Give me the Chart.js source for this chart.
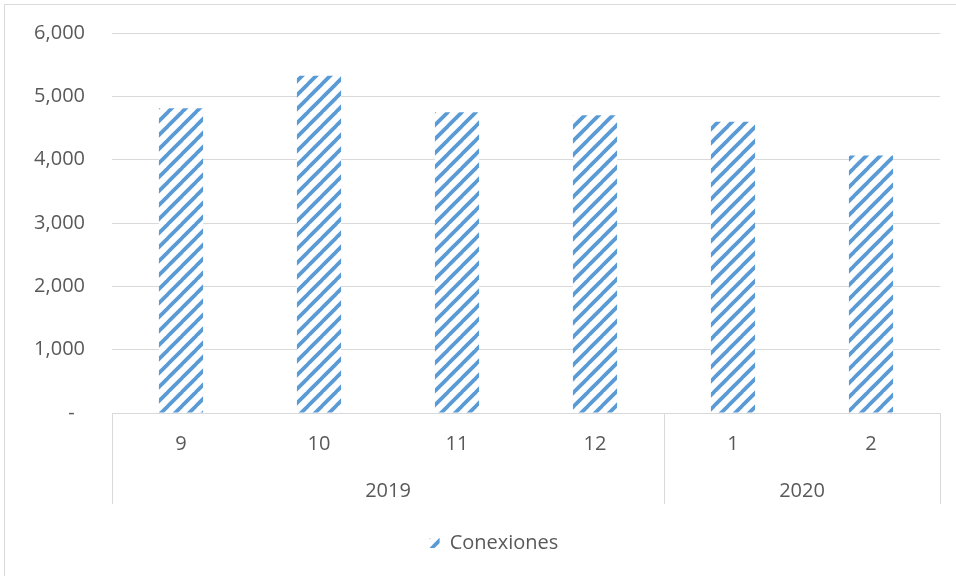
<!DOCTYPE html>
<html>
<head>
<meta charset="utf-8">
<script src="https://cdn.jsdelivr.net/npm/chart.js@4.4.1/dist/chart.umd.min.js"></script>
<style>
html,body{margin:0;padding:0;background:#fff;}
#wrap{width:956px;height:576px;position:relative;}
canvas{display:block;}
</style>
</head>
<body>
<div id="wrap"><canvas id="c" width="956" height="576"></canvas></div>
<script>
const months = ['9', '10', '11', '12', '1', '2'];
const years = ['2019', '2019', '2019', '2019', '2020', '2020'];
const conexiones = [4810, 5325, 4750, 4700, 4600, 4065];
const yTicks = [0, 1000, 2000, 3000, 4000, 5000, 6000];
const seriesName = 'Conexiones';

const BLUE = '#5b9bd5';
const TEXT = '#595959';
const GRID = '#d9d9d9';
const FONT = "'Open Sans', sans-serif";

function makePattern() {
  const s = 14;
  const t = document.createElement('canvas');
  t.width = s; t.height = s;
  const g = t.getContext('2d');
  g.fillStyle = '#fff';
  g.fillRect(0, 0, s, s);
  g.strokeStyle = BLUE;
  g.lineWidth = 3.8;
  for (const x0 of [-s, 0, s]) {
    g.beginPath();
    g.moveTo(x0 - 1, s + 1);
    g.lineTo(x0 + s + 1, -1);
    g.stroke();
  }
  return document.getElementById('c').getContext('2d').createPattern(t, 'repeat');
}
const pattern = makePattern();

const groupPlugin = {
  id: 'groups',
  afterLayout(chart) {
    const lg = chart.legend;
    if (lg) {
      lg.left += 24; lg.right += 24;
      lg.top += 13; lg.bottom += 13;
    }
  },
  afterDraw(chart) {
    const ctx = chart.ctx;
    const xs = chart.scales.x;
    const area = chart.chartArea;
    ctx.save();
    ctx.strokeStyle = GRID;
    ctx.lineWidth = 1;
    ctx.strokeRect(4.5, 4.5, 1000, 1000);
    const bounds = [area.left];
    for (let i = 1; i < years.length; i++) {
      if (years[i] !== years[i - 1]) {
        bounds.push((xs.getPixelForValue(i - 1) + xs.getPixelForValue(i)) / 2);
      }
    }
    bounds.push(area.right);
    ctx.beginPath();
    for (const b of bounds) {
      const x = Math.round(b) + 0.5;
      ctx.moveTo(x, xs.top);
      ctx.lineTo(x, xs.bottom);
    }
    ctx.stroke();
    ctx.fillStyle = TEXT;
    ctx.font = "20px " + FONT;
    ctx.textAlign = 'center';
    ctx.textBaseline = 'middle';
    let start = 0;
    for (let i = 1; i <= years.length; i++) {
      if (i === years.length || years[i] !== years[start]) {
        const cx = (xs.getPixelForValue(start) + xs.getPixelForValue(i - 1)) / 2;
        ctx.fillText(years[start], cx, xs.top + 78);
        start = i;
      }
    }
    ctx.restore();
  }
};

new Chart(document.getElementById('c'), {
  type: 'bar',
  data: {
    labels: months,
    datasets: [{
      label: seriesName,
      data: conexiones,
      backgroundColor: pattern,
      borderWidth: 0,
      categoryPercentage: 1,
      barPercentage: 0.32
    }]
  },
  options: {
    responsive: false,
    animation: false,
    layout: { padding: { top: 33, right: 16, left: 0, bottom: 26 } },
    plugins: {
      tooltip: { enabled: false },
      legend: {
        position: 'bottom',
        labels: {
          color: TEXT,
          font: { family: FONT, size: 20 },
          boxWidth: 10,
          boxHeight: 10,
          padding: 16
        }
      }
    },
    scales: {
      x: {
        grid: { display: false },
        border: { display: false },
        ticks: { color: TEXT, font: { family: FONT, size: 20 }, padding: 11, maxRotation: 0 },
        afterFit(s) { s.height = 91; }
      },
      y: {
        min: 0,
        max: 6000,
        afterBuildTicks(s) { s.ticks = yTicks.map(v => ({ value: v })); },
        grid: { color: GRID, lineWidth: 1, drawTicks: false },
        border: { display: false },
        ticks: {
          color: TEXT,
          font: { family: FONT, size: 20 },
          padding: 27,
          callback: v => v === 0 ? '-  ' : v.toLocaleString('en-US')
        },
        afterFit(s) { s.width = 112; s.paddingTop = 0; s.paddingBottom = 0; }
      }
    }
  },
  plugins: [groupPlugin]
});
</script>
</body>
</html>
